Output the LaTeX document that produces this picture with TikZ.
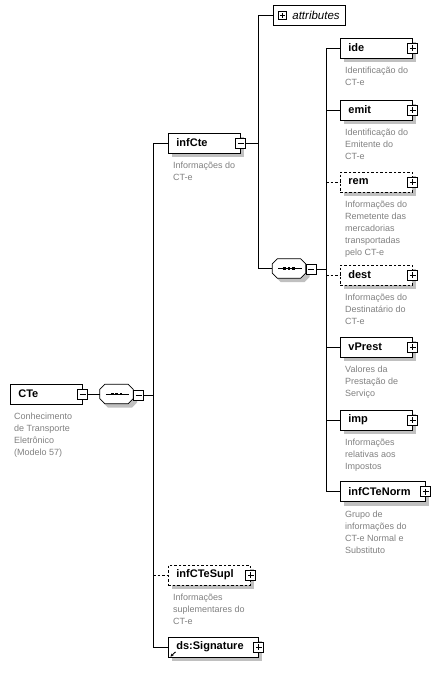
\documentclass[tikz,border=0pt]{standalone}
\usepackage{fontspec}
\setmainfont{Liberation Sans}
\usetikzlibrary{calc,arrows.meta}
\definecolor{shadowgray}{RGB}{192,192,192}
\definecolor{descgray}{RGB}{128,128,128}
\tikzset{
  elem/.style={draw, line width=0.8pt, fill=white, minimum height=20pt, anchor=west,
    inner xsep=8pt, inner ysep=0pt, align=left, text width=#1,
    font=\bfseries\fontsize{11}{13}\selectfont},
  opt/.style={dash pattern=on 2.5pt off 2pt},
  pbox/.style={draw, line width=0.8pt, fill=white, minimum size=10pt, inner sep=0pt,
    path picture={\draw[line width=0.8pt]
      ([xshift=2pt]path picture bounding box.west) -- ([xshift=-2pt]path picture bounding box.east)
      ([yshift=-2pt]path picture bounding box.north) -- ([yshift=2pt]path picture bounding box.south);}},
  mbox/.style={draw, line width=0.8pt, fill=white, minimum size=10pt, inner sep=0pt,
    path picture={\draw[line width=0.8pt]
      ([xshift=2pt]path picture bounding box.west) -- ([xshift=-2pt]path picture bounding box.east);}},
  desc/.style={anchor=north west, inner sep=0pt, align=left, text=descgray,
    font=\fontsize{9}{12}\selectfont},
  conn/.style={line width=0.8pt},
  seqbox/.style={draw=none, minimum width=33pt, minimum height=19pt, inner sep=0pt},
  shadowfill/.style={fill=shadowgray, draw=none},
}
% shadow drawn before the element, from its west point and width
\newcommand{\shadat}[3]{% x, y (centre-left), width
  \path[shadowfill] (#1+4,#2-14) rectangle (#1+#3+4,#2+6);}
\newcommand{\octa}[1]{%
  \draw[line width=0.8pt, fill=white] ($(#1.north west)+(5,0)$) -- ($(#1.north east)+(-5,0)$) -- ($(#1.north east)+(0,-5)$) -- ($(#1.south east)+(0,5)$) -- ($(#1.south east)+(-5,0)$) -- ($(#1.south west)+(5,0)$) -- ($(#1.south west)+(0,5)$) -- ($(#1.north west)+(0,-5)$) -- cycle;
  \draw[line width=0.8pt] ($(#1.west)+(6,0)$) -- ($(#1.east)+(-4,0)$);
  \fill ($(#1.center)+(-5.8,-1.4)$) rectangle ++(2.8,2.8);
  \fill ($(#1.center)+(-1.4,-1.4)$) rectangle ++(2.8,2.8);
  \fill ($(#1.center)+(3.0,-1.4)$) rectangle ++(2.8,2.8);
}
\newcommand{\octshad}[2]{% centre x, y of octagon (33 x 19)
  \path[shadowfill] (#1-16.5+8,#2+9.5-4) -- (#1+16.5-1,#2+9.5-4) -- (#1+16.5+4,#2+4.5-4) -- (#1+16.5+4,#2-4.5-4) -- (#1+16.5-1,#2-9.5-4) -- (#1-16.5+8,#2-9.5-4) -- (#1-16.5+3,#2-4.5-4) -- (#1-16.5+3,#2+4.5-4) -- cycle;}
\begin{document}
\begin{tikzpicture}[x=1pt, y=1pt]
\useasboundingbox (0,0) rectangle (440,-674);

% buses
\coordinate (b1) at (153,0);
\coordinate (b2) at (258,0);
\coordinate (b3) at (326,0);

% root
\node[elem=56pt] (cte) at (10,-394) {CTe};
\node[mbox] (ctem) at (cte.east) {};
\node[desc] (cted) at ($(cte.south west)+(4,-8.5)$) {Conhecimento\\de Transporte\\Eletrônico\\(Modelo 57)};

\octshad{116.5}{-394}
\node[seqbox] (seq1) at (116.5,-394) {};
\octa{seq1}
\node[mbox] (seq1m) at ($(seq1.east)+(5.5,-1)$) {};

% level 1
\shadat{168}{-143}{72}
\node[elem=56pt] (infcte) at (168,-143) {infCte};
\node[mbox] (infctem) at (infcte.east) {};
\node[desc] (infcted) at ($(infcte.south west)+(5,-8.5)$) {Informações do\\CT-e};

\shadat{168}{-575}{82}
\node[elem=66pt, opt] (supl) at (168,-575) {infCTeSupl};
\node[pbox] (suplp) at (supl.east) {};
\node[desc] (supld) at ($(supl.south west)+(5,-8.5)$) {Informações\\suplementares do\\CT-e};

\shadat{168}{-647}{90}
\node[elem=74pt] (sig) at (168,-647) {ds:Signature};
\node[pbox] (sigp) at (sig.east) {};
\draw[line width=0.9pt, -{Stealth[length=3pt,width=3pt]}] ($(sig.south west)+(7.5,5.5)$) -- ($(sig.south west)+(2.5,0.8)$);

% level 2
\node[draw, line width=0.8pt, fill=white, anchor=west, minimum height=20pt, inner xsep=0pt, inner ysep=0pt,
  text width=72pt, align=left, font=\itshape\fontsize{11.5}{13}\selectfont] (attr) at (273,-15) {\hspace*{19pt}attributes};
\node[pbox, minimum size=8.5pt] (attrp) at (282.5,-15.5) {};

\octshad{289}{-268.5}
\node[seqbox] (seq2) at (289,-268.5) {};
\octa{seq2}
\node[mbox] (seq2m) at ($(seq2.east)+(5.5,-1)$) {};

% level 3
\shadat{340}{-48}{72}
\node[elem=56pt] (ide) at (340,-48) {ide};
\node[pbox] (idep) at (ide.east) {};
\node[desc] (ided) at ($(ide.south west)+(5,-8.5)$) {Identificação do\\CT-e};

\shadat{340}{-110}{72}
\node[elem=56pt] (emit) at (340,-110) {emit};
\node[pbox] (emitp) at (emit.east) {};
\node[desc] (emitd) at ($(emit.south west)+(5,-8.5)$) {Identificação do\\Emitente do\\CT-e};

\shadat{340}{-182}{72}
\node[elem=56pt, opt] (rem) at (340,-182) {rem};
\node[pbox] (remp) at (rem.east) {};
\node[desc] (remd) at ($(rem.south west)+(5,-8.5)$) {Informações do\\Remetente das\\mercadorias\\transportadas\\pelo CT-e};

\shadat{340}{-275}{72}
\node[elem=56pt, opt] (dest) at (340,-275) {dest};
\node[pbox] (destp) at (dest.east) {};
\node[desc] (destd) at ($(dest.south west)+(5,-8.5)$) {Informações do\\Destinatário do\\CT-e};

\shadat{340}{-347}{72}
\node[elem=56pt] (vprest) at (340,-347) {vPrest};
\node[pbox] (vprestp) at (vprest.east) {};
\node[desc] (vprestd) at ($(vprest.south west)+(5,-8.5)$) {Valores da\\Prestação de\\Serviço};

\shadat{340}{-420}{72}
\node[elem=56pt] (imp) at (340,-420) {imp};
\node[pbox] (impp) at (imp.east) {};
\node[desc] (impd) at ($(imp.south west)+(5,-8.5)$) {Informações\\relativas aos\\Impostos};

\shadat{340}{-491.5}{85}
\node[elem=69pt] (norm) at (340,-491.5) {infCTeNorm};
\node[pbox] (normp) at (norm.east) {};
\node[desc] (normd) at ($(norm.south west)+(5,-8.5)$) {Grupo de\\informações do\\CT-e Normal e\\Substituto};

% connectors
\draw[conn] (ctem.east) -- (seq1.west);
\draw[conn] (seq1m.east) -- (seq1m.east -| b1);
\draw[conn] (infcte.west) -- (infcte.west -| b1) -- (sig.west -| b1) -- (sig.west);
\draw[conn, opt] (supl.west -| b1) -- (supl.west);

\draw[conn] (infctem.east) -- (infctem.east -| b2);
\draw[conn] (attr.west) -- (attr.west -| b2) -- (seq2.west -| b2) -- (seq2.west);

\draw[conn] (seq2m.east) -- (seq2m.east -| b3);
\draw[conn] (ide.west) -- (ide.west -| b3) -- (norm.west -| b3) -- (norm.west);
\draw[conn] (emit.west -| b3) -- (emit.west);
\draw[conn, opt] (rem.west -| b3) -- (rem.west);
\draw[conn, opt] (dest.west -| b3) -- (dest.west);
\draw[conn] (vprest.west -| b3) -- (vprest.west);
\draw[conn] (imp.west -| b3) -- (imp.west);
\end{tikzpicture}
\end{document}
